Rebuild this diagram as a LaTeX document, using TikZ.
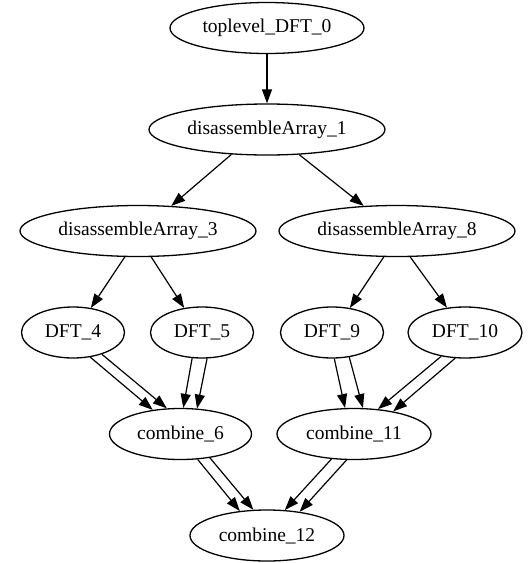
\documentclass[tikz,border=0pt]{standalone}
\usepackage{fontspec}
\setmainfont{Liberation Serif}
\usetikzlibrary{shapes.geometric,arrows.meta}
\begin{document}
\begin{tikzpicture}[x=1pt,y=-1pt,
  vertex/.style={draw,ellipse,line width=1.3pt,inner sep=0pt,minimum height=51pt,
    font=\fontsize{19.5}{22}\selectfont},
  edge/.style={line width=1.2pt,-{Triangle[length=14pt,width=10pt]}}]
\useasboundingbox (0,0) rectangle (531,563);

% task graph nodes
\node[vertex,minimum width=194pt] (n0)  at (267,28)    {toplevel\_DFT\_0};
\node[vertex,minimum width=236pt] (n1)  at (267,129.5) {disassembleArray\_1};
\node[vertex,minimum width=236pt] (n3)  at (138,231)   {disassembleArray\_3};
\node[vertex,minimum width=236pt] (n8)  at (397,231)   {disassembleArray\_8};
\node[vertex,minimum width=103pt] (n4)  at (73,332.5)  {DFT\_4};
\node[vertex,minimum width=103pt] (n5)  at (202,332.5) {DFT\_5};
\node[vertex,minimum width=103pt] (n9)  at (332,332.5) {DFT\_9};
\node[vertex,minimum width=114pt] (n10) at (465,332.5) {DFT\_10};
\node[vertex,minimum width=142pt] (n6)  at (180.5,434) {combine\_6};
\node[vertex,minimum width=154pt] (n11) at (354,434)   {combine\_11};
\node[vertex,minimum width=154pt] (n12) at (267,535.5) {combine\_12};

% splitting edges
\draw[edge] (n0.south) -- (n1.north);
\draw[edge] (n1.215) -- (n3.37);
\draw[edge] (n1.322) -- (n8.143);
\draw[edge] (n3.243) -- (n4.54);
\draw[edge] (n3.297) -- (n5.126);
\draw[edge] (n8.243) -- (n9.54);
\draw[edge] (n8.297) -- (n10.126);

% combining edges (two per pair)
\draw[edge] (n4.305) -- (n6.139);
\draw[edge] (n4.323) -- (n6.118);
\draw[edge] (n5.249) -- (n6.84);
\draw[edge] (n5.281) -- (n6.57);
\draw[edge] (n9.275) -- (n11.109);
\draw[edge] (n9.305) -- (n11.71);
\draw[edge] (n10.225) -- (n11.46);
\draw[edge] (n10.249) -- (n11.30);
\draw[edge] (n6.304) -- (n12.138);
\draw[edge] (n6.321) -- (n12.118);
\draw[edge] (n11.228) -- (n12.55);
\draw[edge] (n11.254) -- (n12.36);
\end{tikzpicture}
\end{document}
